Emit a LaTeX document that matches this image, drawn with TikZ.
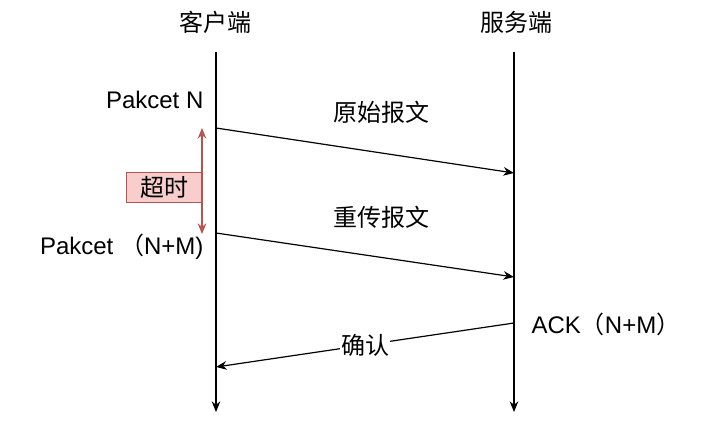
\documentclass[tikz,border=0pt]{standalone}
\usepackage{fontspec}
\setmainfont{Liberation Sans}
\newfontfamily\cjk{Noto Sans CJK SC}
\usetikzlibrary{arrows.meta, positioning}

\definecolor{tored}{HTML}{B85450}
\definecolor{tofill}{HTML}{F8CECC}

\begin{document}
\begin{tikzpicture}[x=0.75pt, y=-0.75pt, >={Stealth[length=8pt, width=6.5pt]},
  every node/.style={font=\fontsize{18}{21}\selectfont, inner sep=1pt},
  msg/.style={->, line width=0.9pt},
  life/.style={->, line width=0.9pt}]
\useasboundingbox (0,0) rectangle (728,429);
% lifelines
\node (cli) at (215,22) {\cjk 客户端};
\node (srv) at (516,22) {\cjk 服务端};
\coordinate (c0) at (216,52);
\coordinate (c1) at (216,412);
\coordinate (s0) at (514,52);
\coordinate (s1) at (514,412);
\draw[life] (c0) -- (c1);
\draw[life] (s0) -- (s1);
% first packet
\node[anchor=east] (pn) at (205,100) {Pakcet N};
\coordinate (a0) at (216,128);
\coordinate (a1) at (514,173);
\draw[msg] (a0) -- (a1);
\node (orig) at (381,112) {\cjk 原始报文};
% timeout
\coordinate (t0) at (202,128);
\coordinate (t1) at (202,234);
\node[draw=tored, fill=tofill, minimum width=75*0.75pt, minimum height=30*0.75pt,
  anchor=east] (tout) at (202,187) {\cjk 超时};
\draw[<->, tored, line width=0.9pt] (t0) -- (t1);
% retransmit
\node[anchor=east] (pnm) at (205,247) {Pakcet {\cjk （}N+M)};
\coordinate (b0) at (216,233);
\coordinate (b1) at (514,277);
\draw[msg] (b0) -- (b1);
\node (retr) at (381,217) {\cjk 重传报文};
% ack
\node[anchor=west] (ack) at (530,324) {ACK{\cjk （}N+M{\cjk ）}};
\coordinate (k0) at (514,323);
\coordinate (k1) at (216,367);
\draw[msg] (k0) -- node[fill=white, pos=0.5] (conf) {\cjk 确认} (k1);
\end{tikzpicture}
\end{document}
